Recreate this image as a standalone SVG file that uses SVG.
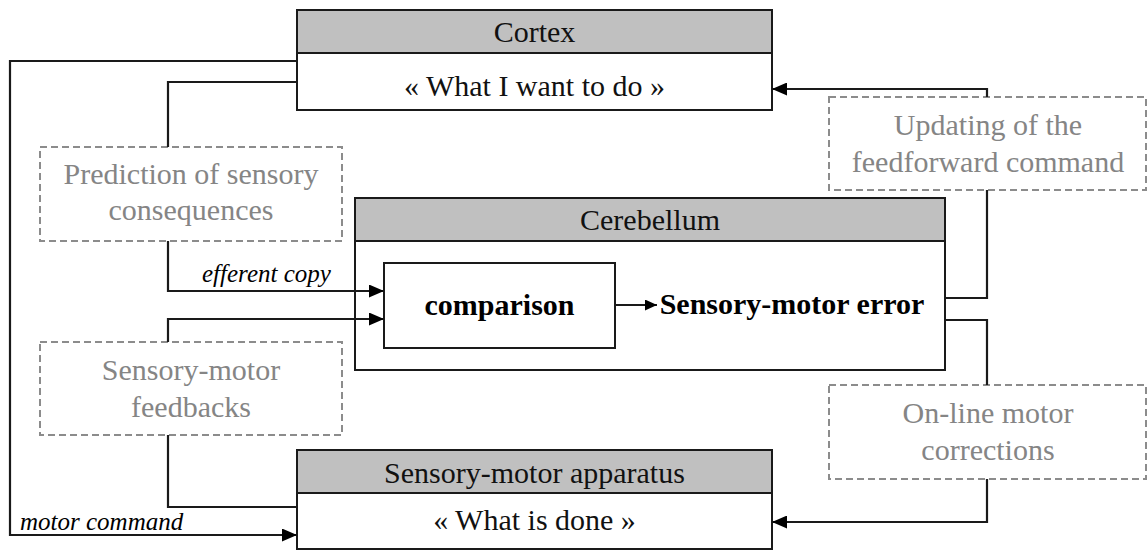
<svg xmlns="http://www.w3.org/2000/svg" width="1148" height="552" viewBox="0 0 1148 552">
  <style>
    .box{fill:#fff;stroke:#1a1a1a;stroke-width:2}
    .hdr{fill:#c0c0c0;stroke:#1a1a1a;stroke-width:2}
    .dash{fill:#fff;stroke:#8c8c8c;stroke-width:2;stroke-dasharray:7 4}
    text{font-family:'Liberation Serif','Times New Roman',serif}
    .t{font-size:30px;fill:#111;text-anchor:middle}
    .g{font-size:30px;fill:#858585;text-anchor:middle}
    .b{font-size:30px;font-weight:bold;fill:#000;text-anchor:middle}
    .i{font-size:25px;font-style:italic;fill:#000}
    .c{fill:none;stroke:#1a1a1a;stroke-width:2.2}
  </style>
  <defs>
    <marker id="arr" markerUnits="userSpaceOnUse" markerWidth="15" markerHeight="13" refX="15" refY="6.5" orient="auto">
      <path d="M0,0 L15,6.5 L0,13 Z" fill="#000"/>
    </marker>
    <marker id="arrs" markerUnits="userSpaceOnUse" markerWidth="12" markerHeight="11" refX="12" refY="5.5" orient="auto">
      <path d="M0,0 L12,5.5 L0,11 Z" fill="#000"/>
    </marker>
  </defs>
  <rect width="1148" height="552" fill="#fff"/>

  <g id="cortex">
    <rect class="box" x="297" y="10" width="475" height="100"/>
    <rect class="hdr" x="297" y="10" width="475" height="43"/>
    <text class="t" x="534.5" y="42">Cortex</text>
    <text class="t" x="534.5" y="96">« What I want to do »</text>
  </g>

  <g id="cerebellum">
    <rect class="box" x="355" y="198" width="590" height="172"/>
    <rect class="hdr" x="355" y="198" width="590" height="43"/>
    <text class="t" x="650" y="230">Cerebellum</text>
  </g>

  <g id="comparison">
    <rect class="box" x="384" y="263" width="231" height="85"/>
    <text class="b" x="499.5" y="315">comparison</text>
  </g>

  <g id="error">
    <text class="b" x="792" y="314">Sensory-motor error</text>
  </g>

  <g id="apparatus">
    <rect class="box" x="297" y="450" width="475" height="99"/>
    <rect class="hdr" x="297" y="450" width="475" height="43"/>
    <text class="t" x="534.5" y="483">Sensory-motor apparatus</text>
    <text class="t" x="534.5" y="530">« What is done »</text>
  </g>

  <g id="prediction">
    <rect class="dash" x="40" y="147" width="302" height="94"/>
    <text class="g" x="191" y="184">Prediction of sensory</text>
    <text class="g" x="191" y="220">consequences</text>
  </g>

  <g id="feedbacks">
    <rect class="dash" x="40" y="342" width="302" height="93"/>
    <text class="g" x="191" y="380">Sensory-motor</text>
    <text class="g" x="191" y="417">feedbacks</text>
  </g>

  <g id="updating">
    <rect class="dash" x="829" y="97" width="317" height="93"/>
    <text class="g" x="988" y="135">Updating of the</text>
    <text class="g" x="988" y="172">feedforward command</text>
  </g>

  <g id="online">
    <rect class="dash" x="829" y="385" width="317" height="94"/>
    <text class="g" x="988" y="423">On-line motor</text>
    <text class="g" x="988" y="460">corrections</text>
  </g>

  <g id="connectors">
    <path class="c" d="M297,61 H10 V535 H297" marker-end="url(#arr)"/>
    <path class="c" d="M297,82 H168 V147"/>
    <path class="c" d="M168,241 V291 H384" marker-end="url(#arr)"/>
    <path class="c" d="M168,342 V319 H384" marker-end="url(#arr)"/>
    <path class="c" d="M168,435 V507 H297"/>
    <path class="c" d="M945,298 H987 V190"/>
    <path class="c" d="M987,97 V89 H772" marker-end="url(#arr)"/>
    <path class="c" d="M945,320 H987 V385"/>
    <path class="c" d="M987,479 V522 H772" marker-end="url(#arr)"/>
    <path class="c" d="M615,305 H657" marker-end="url(#arrs)"/>
    <text class="i" x="202" y="282">efferent copy</text>
    <text class="i" x="20" y="530">motor command</text>
  </g>
</svg>
